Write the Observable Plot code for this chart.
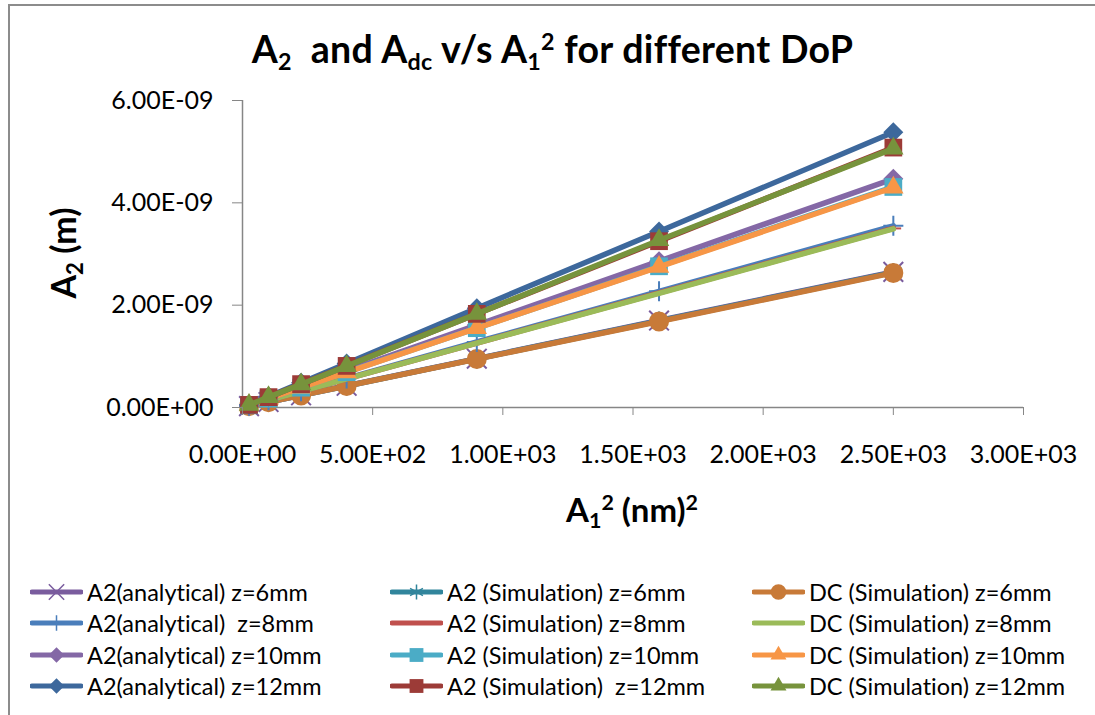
<!DOCTYPE html>
<html><head><meta charset="utf-8">
<script src="https://cdn.jsdelivr.net/npm/d3@7"></script>
<script src="https://cdn.jsdelivr.net/npm/@observablehq/plot@0.6"></script>
<style>
body{margin:0;background:#fff;}
#wrap{position:relative;width:1095px;height:715px;overflow:hidden;background:#fff;font-family:Lato,"Liberation Sans",sans-serif;color:#000;font-variant-ligatures:none;}
#frame{position:absolute;left:8px;top:4px;width:1200px;height:800px;border-left:2px solid #8c8c8c;border-top:2px solid #8c8c8c;}
#title{position:absolute;top:30px;left:0;width:1105px;text-align:center;font-weight:bold;font-size:37.5px;line-height:37px;white-space:nowrap;letter-spacing:0.3px;}
#title sub{font-size:0.62em;vertical-align:-0.3em;line-height:0}
#title sup{font-size:0.62em;vertical-align:0.55em;line-height:0}
#chart{position:absolute;left:0;top:80px;}
#ylab{position:absolute;left:-37px;top:236px;width:200px;text-align:center;font-weight:bold;font-size:34px;line-height:34px;transform:rotate(-90deg);white-space:nowrap;}
#ylab sub{font-size:0.65em;vertical-align:-0.3em;line-height:0}
#xlab{position:absolute;left:432px;top:493px;width:400px;text-align:center;font-weight:bold;font-size:33px;line-height:33px;white-space:nowrap;}
#xlab sub{font-size:0.65em;vertical-align:-0.3em;line-height:0}
#xlab sup{font-size:0.65em;vertical-align:0.55em;line-height:0}
.leg{position:absolute;height:26px;display:flex;align-items:center;font-size:23.5px;white-space:pre;}
.leg svg{margin-right:4px;}
</style>
</head><body>
<div id="wrap">
  <div id="frame"></div>
  <div id="title">A<sub>2</sub>&nbsp; and A<sub>dc</sub> v/s A<sub>1</sub><sup>2</sup> for different DoP</div>
  <div id="chart"></div>
  <div id="ylab">A<sub>2</sub> (m)</div>
  <div id="xlab">A<sub>1</sub><sup>2</sup> (nm)<sup>2</sup></div>
  <div id="legend"></div>
</div>
<script>
// x values: A1^2 in nm^2
const a1sq = [25, 100, 225, 400, 900, 1600, 2500];
// A2 values, in units of 1e-9 m
const an6  = [0.0265, 0.106, 0.239, 0.424, 0.954, 1.70, 2.65];
const sim6 = [0.026, 0.105, 0.237, 0.42, 0.95, 1.69, 2.64];
const dc6  = [0.026, 0.105, 0.236, 0.42, 0.947, 1.68, 2.63];
const an8  = [0.0355, 0.142, 0.32, 0.568, 1.28, 2.27, 3.55];
const sim8 = [0.035, 0.14, 0.315, 0.56, 1.26, 2.24, 3.50];
const dc8  = [0.035, 0.14, 0.314, 0.558, 1.26, 2.23, 3.49];
const an10 = [0.0447, 0.179, 0.402, 0.715, 1.61, 2.86, 4.47];
const sim10= [0.043, 0.172, 0.388, 0.69, 1.55, 2.76, 4.31];
const dc10 = [0.043, 0.172, 0.387, 0.688, 1.55, 2.75, 4.30];
const an12 = [0.0538, 0.215, 0.484, 0.861, 1.94, 3.44, 5.38];
const sim12= [0.0508, 0.203, 0.457, 0.813, 1.83, 3.25, 5.08];
const dc12 = [0.0505, 0.202, 0.454, 0.808, 1.83, 3.27, 5.06];

const seriesNames = [
  "A2(analytical) z=6mm", "A2 (Simulation) z=6mm", "DC (Simulation) z=6mm",
  "A2(analytical)  z=8mm", "A2 (Simulation) z=8mm", "DC (Simulation) z=8mm",
  "A2(analytical) z=10mm", "A2 (Simulation) z=10mm", "DC (Simulation) z=10mm",
  "A2(analytical) z=12mm", "A2 (Simulation)  z=12mm", "DC (Simulation) z=12mm"
];
const seriesValues = [an6, sim6, dc6, an8, sim8, dc8, an10, sim10, dc10, an12, sim12, dc12];
const seriesColors = [
  "#7A5C9E", "#31859C", "#C87A38",
  "#4A7EBB", "#C0504D", "#9BBB59",
  "#8468A6", "#4BACC6", "#F79646",
  "#3D689C", "#9C3B37", "#77933C"
];
const seriesMarkers = [
  "times", "asterisk", "circle",
  "plus", "dash", "none",
  "diamond", "square", "triangle",
  "diamond", "square", "triangle"
];
const xTicks = [0, 500, 1000, 1500, 2000, 2500, 3000];
const yTicks = [0, 2e-9, 4e-9, 6e-9];

const dash = {draw(ctx, size){ const w = Math.sqrt(size) * 0.55; ctx.moveTo(-w, 0); ctx.lineTo(w, 0); }};
const markerDefs = {
  times:   {sym: d3.symbolTimes, r: 9, fill: false},
  asterisk:{sym: d3.symbolAsterisk, r: 9, fill: false},
  circle:  {sym: d3.symbolCircle, r: 10, fill: true},
  plus:    {sym: d3.symbolPlus, r: 6.5, fill: false},
  dash:    {sym: dash, r: 8, fill: false},
  diamond: {sym: d3.symbolDiamond2, r: 9, fill: true},
  square:  {sym: d3.symbolSquare, r: 10, fill: true},
  triangle:{sym: d3.symbolTriangle, r: 7.6, fill: true}
};

function sci(d){
  if (d === 0) return "0.00E+00";
  let e = Math.floor(Math.log10(Math.abs(d)) + 1e-9);
  let m = d / Math.pow(10, e);
  if (Math.abs(m) >= 9.995) { m /= 10; e += 1; }
  const sign = e < 0 ? "-" : "+";
  return m.toFixed(2) + "E" + sign + String(Math.abs(e)).padStart(2, "0");
}

const marks = [];
marks.push(Plot.ruleY([0], {stroke: "#868686", strokeWidth: 1.5}));
marks.push(Plot.ruleX([0], {stroke: "#868686", strokeWidth: 1.5}));
seriesValues.forEach((vals, i) => {
  const rows = a1sq.map((x, j) => ({x, y: vals[j] * 1e-9}));
  marks.push(Plot.line(rows, {x: "x", y: "y", stroke: seriesColors[i], strokeWidth: 5.5, strokeLinejoin: "round", strokeLinecap: "round"}));
  const m = markerDefs[seriesMarkers[i]];
  if (m) {
    marks.push(Plot.dot(rows, {
      x: "x", y: "y", symbol: () => m.sym, r: m.r,
      fill: m.fill ? seriesColors[i] : "none",
      stroke: m.fill ? "none" : seriesColors[i],
      strokeWidth: m.fill ? 0 : 2
    }));
  }
});
marks.push(Plot.axisX({ticks: xTicks, tickFormat: sci, tickSize: 8, tickPadding: 30, stroke: "#868686", fill: "#000", label: null}));
marks.push(Plot.axisY({ticks: yTicks, tickFormat: sci, tickSize: 10, tickPadding: 19, stroke: "#868686", fill: "#000", label: null}));

const chart = Plot.plot({
  width: 1095,
  height: 380,
  marginLeft: 242,
  marginRight: 72,
  marginTop: 20,
  marginBottom: 53,
  style: {fontFamily: "Lato, 'Liberation Sans', sans-serif", fontSize: "25px", background: "transparent", overflow: "visible"},
  x: {domain: [0, 3000]},
  y: {domain: [0, 6e-9]},
  symbol: {type: "identity"},
  marks
});
document.getElementById("chart").appendChild(chart);

// legend
const legRows = [592, 623, 655, 686];
const legCols = [30, 390, 752];
const legend = document.getElementById("legend");
seriesNames.forEach((name, i) => {
  const row = Math.floor(i / 3), col = i % 3;
  const div = document.createElement("div");
  div.className = "leg";
  div.style.left = legCols[col] + "px";
  div.style.top = (legRows[row] - 13) + "px";
  const svg = d3.create("svg").attr("width", 53).attr("height", 24);
  svg.append("line").attr("x1", 2).attr("x2", 51).attr("y1", 12).attr("y2", 12)
    .attr("stroke", seriesColors[i]).attr("stroke-width", 5).attr("stroke-linecap", "round");
  const m = markerDefs[seriesMarkers[i]];
  if (m) {
    const size = Math.PI * (m.r * 0.78) * (m.r * 0.78);
    svg.append("path").attr("transform", "translate(26.5,12)")
      .attr("d", d3.symbol(m.sym, size)())
      .attr("fill", m.fill ? seriesColors[i] : "none")
      .attr("stroke", m.fill ? "none" : seriesColors[i])
      .attr("stroke-width", m.fill ? 0 : 1.5);
  }
  div.appendChild(svg.node());
  const span = document.createElement("span");
  span.textContent = name;
  div.appendChild(span);
  legend.appendChild(div);
});
</script>
</body></html>
